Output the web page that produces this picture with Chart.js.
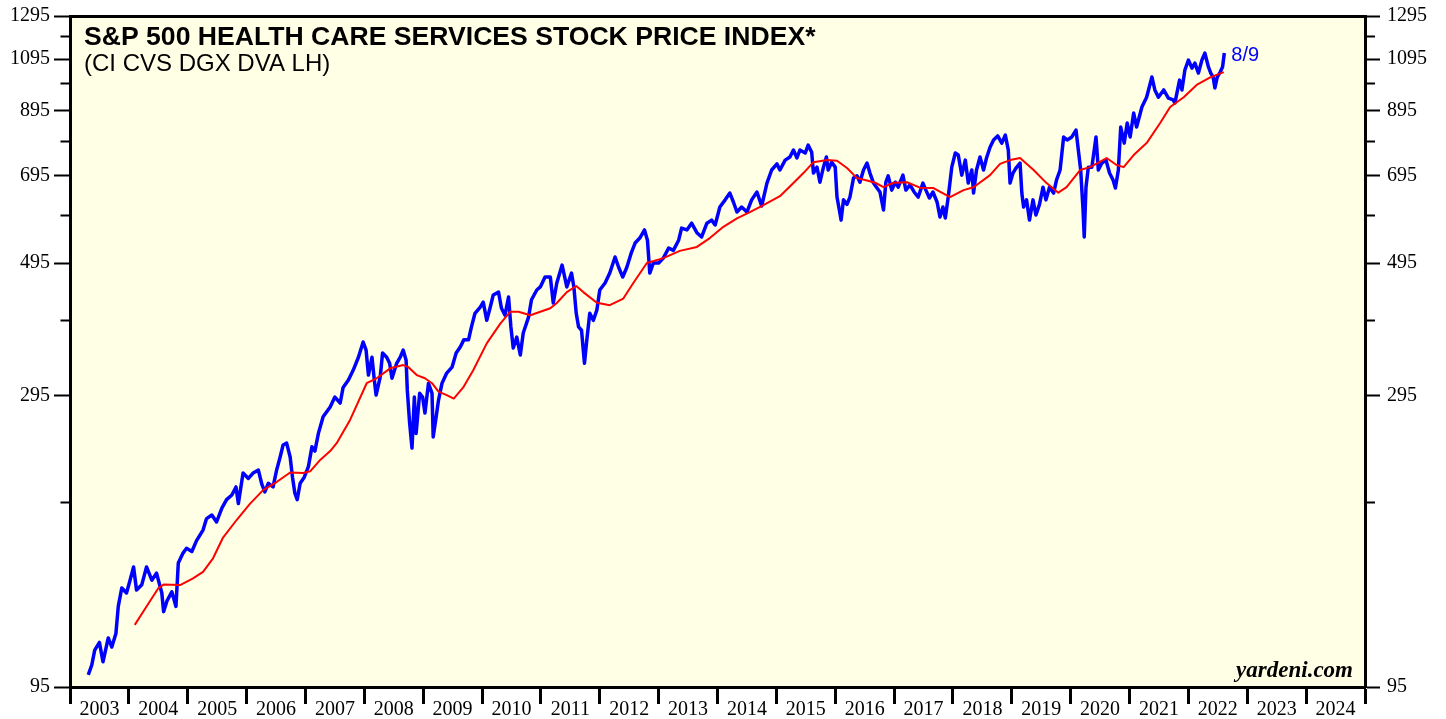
<!DOCTYPE html>
<html>
<head>
<meta charset="utf-8">
<script src="https://cdn.jsdelivr.net/npm/chart.js@4/dist/chart.umd.min.js"></script>
<style>
  html, body { margin: 0; padding: 0; background: #ffffff; }
  #wrap { width: 1446px; height: 719px; position: relative; }
</style>
</head>
<body>
<div id="wrap"><canvas id="c" width="1446" height="719"></canvas></div>
<script>
// ---------- DATA ----------
const titleText = 'S&P 500 HEALTH CARE SERVICES STOCK PRICE INDEX*';
const subtitleText = '(CI CVS DGX DVA LH)';
const lastLabel = '8/9';
const sourceText = 'yardeni.com';

const yearLabels = [2003, 2004, 2005, 2006, 2007, 2008, 2009, 2010, 2011, 2012, 2013,
                    2014, 2015, 2016, 2017, 2018, 2019, 2020, 2021, 2022, 2023, 2024];
const yMajorTicks = [95, 295, 495, 695, 895, 1095, 1295];
const yMinorTicks = [195, 395, 595, 795, 995, 1195];

// weekly-ish index level (decimal year dates)
const priceDates = [
  2003.31, 2003.37, 2003.42, 2003.50, 2003.56, 2003.65, 2003.71, 2003.78, 2003.82, 2003.88, 2003.96,
  2004.02, 2004.08, 2004.13, 2004.22, 2004.30, 2004.39, 2004.47, 2004.56, 2004.59, 2004.65, 2004.73, 2004.80, 2004.84, 2004.92, 2004.98,
  2005.07, 2005.15, 2005.26, 2005.32, 2005.41, 2005.49, 2005.58, 2005.66, 2005.75, 2005.82, 2005.86, 2005.94,
  2006.03, 2006.11, 2006.20, 2006.26, 2006.31, 2006.37, 2006.45, 2006.51, 2006.57, 2006.62, 2006.68, 2006.74, 2006.78, 2006.82, 2006.86, 2006.91, 2006.98,
  2007.05, 2007.11, 2007.16, 2007.22, 2007.30, 2007.42, 2007.50, 2007.59, 2007.64, 2007.73, 2007.81, 2007.90, 2007.98,
  2008.03, 2008.07, 2008.13, 2008.17, 2008.20, 2008.27, 2008.31, 2008.38, 2008.43, 2008.47, 2008.55, 2008.61, 2008.66, 2008.71, 2008.73, 2008.77, 2008.81, 2008.85, 2008.88, 2008.94, 2008.99,
  2009.03, 2009.09, 2009.15, 2009.17, 2009.22, 2009.26, 2009.32, 2009.40, 2009.49, 2009.56, 2009.63, 2009.69, 2009.77, 2009.82, 2009.88, 2009.97,
  2010.02, 2010.08, 2010.14, 2010.19, 2010.28, 2010.33, 2010.39, 2010.45, 2010.49, 2010.53, 2010.59, 2010.65, 2010.70, 2010.79, 2010.84, 2010.93, 2010.99,
  2011.07, 2011.16, 2011.21, 2011.27, 2011.36, 2011.44, 2011.52, 2011.56, 2011.60, 2011.64, 2011.69, 2011.74, 2011.78, 2011.83, 2011.89, 2011.95,
  2012.00, 2012.09, 2012.17, 2012.26, 2012.32, 2012.39, 2012.46, 2012.54, 2012.60, 2012.68, 2012.76, 2012.81, 2012.85, 2012.91,
  2013.00, 2013.08, 2013.17, 2013.25, 2013.34, 2013.39, 2013.48, 2013.56, 2013.65, 2013.73, 2013.82, 2013.90, 2013.96,
  2014.04, 2014.13, 2014.21, 2014.27, 2014.33, 2014.41, 2014.50, 2014.58, 2014.67, 2014.75, 2014.84, 2014.92,
  2015.01, 2015.06, 2015.15, 2015.23, 2015.29, 2015.35, 2015.40, 2015.49, 2015.54, 2015.60, 2015.63, 2015.69, 2015.74, 2015.80, 2015.85, 2015.88, 2015.94,
  2016.00, 2016.03, 2016.07, 2016.10, 2016.14, 2016.20, 2016.25, 2016.31, 2016.37, 2016.42, 2016.48, 2016.54, 2016.59, 2016.65, 2016.71, 2016.76, 2016.82, 2016.86, 2016.90, 2016.96,
  2017.02, 2017.07, 2017.15, 2017.20, 2017.27, 2017.34, 2017.41, 2017.49, 2017.54, 2017.60, 2017.66, 2017.73, 2017.78, 2017.83, 2017.87, 2017.92, 2017.98,
  2018.04, 2018.09, 2018.15, 2018.21, 2018.26, 2018.32, 2018.35, 2018.40, 2018.46, 2018.52, 2018.57, 2018.63, 2018.69, 2018.76, 2018.83, 2018.89, 2018.94, 2018.97,
  2019.02, 2019.07, 2019.14, 2019.17, 2019.20, 2019.25, 2019.30, 2019.36, 2019.41, 2019.47, 2019.53, 2019.58, 2019.64, 2019.71, 2019.76, 2019.82, 2019.88, 2019.94,
  2020.02, 2020.09, 2020.13, 2020.17, 2020.21, 2020.23, 2020.26, 2020.30, 2020.36, 2020.43, 2020.47, 2020.53, 2020.60, 2020.66, 2020.72, 2020.76, 2020.81, 2020.85, 2020.91, 2020.96,
  2021.01, 2021.07, 2021.12, 2021.21, 2021.29, 2021.38, 2021.43, 2021.49, 2021.58, 2021.66, 2021.74, 2021.77, 2021.85, 2021.89, 2021.94,
  2022.00, 2022.06, 2022.11, 2022.17, 2022.23, 2022.28, 2022.34, 2022.38, 2022.42, 2022.45, 2022.49, 2022.54, 2022.58, 2022.61
];
const priceValues = [
  99.6, 103.5, 109.7, 113, 104.8, 115, 111, 117, 130, 139.7, 137,
  144, 151.6, 138.6, 141.5, 151.6, 144, 148, 137, 127.4, 133, 137.6, 130, 154, 160, 163,
  161, 168, 175, 183, 185.6, 180.6, 190.7, 197, 200.6, 207, 194, 218.5,
  214, 218.5, 221, 209, 203, 210, 207, 221, 232.6, 243.7, 245.5, 232.6, 215, 202, 197, 210, 215,
  224, 242, 238, 255, 272, 282.6, 293.7, 287, 305, 314, 326, 343, 364,
  352.7, 320, 343, 314, 296, 317.6, 348.7, 343, 335, 316, 335, 343, 352.7, 339, 302, 265.5, 240.8, 293.7, 255, 298, 293.7,
  276, 310, 298, 251.5, 271.8, 290, 310, 322.5, 330, 348.7, 357, 367, 367, 386, 407, 417,
  425, 396, 417, 437, 442, 415, 404, 433.7, 386, 355.5, 371, 346, 377, 401, 429, 445.6, 451,
  468.7, 468.7, 423.6, 458, 491, 451, 476, 451, 407, 386, 381, 335, 367, 407, 396, 412,
  445.6, 458, 476, 506.7, 487, 468.7, 487, 516.6, 535, 545.5, 563, 541, 476, 495,
  495, 504.6, 524.8, 520, 541, 567, 563, 578, 557, 547.8, 578, 585, 574,
  615.6, 633, 650, 627.7, 603.7, 615.6, 603.7, 633, 652.7, 618, 675.7, 711,
  728, 711, 739, 748, 768.6, 745, 768.6, 759.6, 783.6, 762, 702.6, 719, 678, 719, 748, 711, 733,
  719, 640, 608.5, 585, 633, 622, 640, 689, 695, 678, 711, 730.5, 702.6, 675.7, 662.8, 652.7, 608.5, 678, 695, 657.5,
  678, 665, 697, 657.5, 670.8, 652.7, 640, 675.7, 657.5, 637.6, 652.7, 627.7, 592, 615.6, 590, 640, 719,
  759.6, 753.6, 697, 739, 675.7, 711, 650, 711, 748, 711, 745, 777, 799, 812, 789.5, 814.7, 768.6, 675.7,
  702.6, 716.5, 730.5, 650, 615.6, 633, 585, 633, 596.6, 622, 665, 633, 665, 650, 684, 711, 808.6, 799,
  808.6, 830.7, 768.6, 711, 608.5, 547.8, 665, 719, 719, 808.6, 711, 730.5, 739, 702.6, 684, 662.8, 711, 840.5, 789.5, 853.7,
  808.6, 887.6, 840.5, 908.6, 944, 1021, 971, 944, 971, 940.5, 934, 922.8, 1009, 971, 1049.6,
  1091, 1057, 1078, 1037, 1091, 1121, 1062, 1037, 1021, 978.5, 1021, 1041, 1062, 1121
];

// moving average (red)
const maDates = [
  2004.10, 2004.30, 2004.50, 2004.59, 2004.87,
  2005.09, 2005.26, 2005.43, 2005.60, 2005.83,
  2006.06, 2006.28, 2006.51, 2006.74, 2006.96,
  2007.08, 2007.25, 2007.42, 2007.53, 2007.76,
  2008.04, 2008.21, 2008.44, 2008.66, 2008.75, 2008.89,
  2009.03, 2009.15, 2009.26, 2009.40, 2009.52, 2009.68, 2009.85,
  2010.08, 2010.31, 2010.48, 2010.62, 2010.82, 2010.99,
  2011.16, 2011.27, 2011.44, 2011.60, 2011.72, 2011.95,
  2012.17, 2012.40, 2012.57, 2012.80,
  2013.08, 2013.36, 2013.65, 2013.87,
  2014.10, 2014.33, 2014.55, 2014.78,
  2015.06, 2015.29, 2015.46, 2015.63, 2015.86,
  2016.03, 2016.20, 2016.37, 2016.54, 2016.68, 2016.82, 2016.99,
  2017.22, 2017.44, 2017.67, 2017.95,
  2018.18, 2018.35, 2018.63, 2018.80, 2018.97,
  2019.14, 2019.37, 2019.59, 2019.79, 2019.93,
  2020.16, 2020.33, 2020.61, 2020.78, 2020.90,
  2021.07, 2021.29, 2021.52, 2021.69, 2021.92,
  2022.14, 2022.37, 2022.60
];
const maValues = [
  121, 130, 139.5, 141.6, 141.3,
  145, 148.7, 156.8, 170, 182,
  194, 204.5, 211, 219, 218.5,
  220, 230, 238, 245.5, 269,
  310, 316, 328.5, 332.7, 330, 320,
  316, 310, 300, 296, 292, 305, 326,
  362, 391, 409.5, 409.5, 404, 409.5,
  415, 423.6, 442, 452.6, 442, 424,
  420, 431, 458, 495,
  504.6, 519, 527, 545.5,
  570, 589, 603.7, 620,
  642, 675.7, 702.6, 733, 739,
  737, 716.5, 689, 682.7, 676.6, 665, 676.6,
  678, 663.7, 662.8, 640,
  657.5, 665, 697, 728, 739,
  745, 711, 675.7, 651, 665,
  711, 719, 745, 725, 719,
  753.6, 789.5, 853.7, 908.6, 944,
  990, 1019.7, 1041
];

// ---------- BUILD ----------
const xMin = yearLabels[0];
const xMax = yearLabels[yearLabels.length - 1] + 1;
const xTickValues = [];
yearLabels.forEach(y => { xTickValues.push(y, y + 0.5); });
xTickValues.push(xMax);
const yTickValues = yMajorTicks.concat(yMinorTicks).sort((a, b) => a - b);

const pricePoints = priceDates.map((d, i) => ({ x: d, y: priceValues[i] }));
const maPoints = maDates.map((d, i) => ({ x: d, y: maValues[i] }));

const SERIF = '"Liberation Serif", "Times New Roman", Times, serif';
const SANS = '"Liberation Sans", Arial, Helvetica, sans-serif';

const plotBackground = {
  id: 'plotBackground',
  beforeDraw(chart) {
    const { ctx, chartArea: a } = chart;
    ctx.save();
    ctx.fillStyle = '#FFFFE6';
    ctx.fillRect(a.left, a.top, a.right - a.left, a.bottom - a.top);
    ctx.restore();
  }
};

const annotations = {
  id: 'annotations',
  afterDraw(chart) {
    const { ctx, chartArea: a, scales } = chart;
    ctx.save();
    ctx.textAlign = 'left';
    ctx.textBaseline = 'alphabetic';
    ctx.fillStyle = '#000000';
    ctx.font = 'bold 26.6px ' + SANS;
    ctx.fillText(titleText, a.left + 14, a.top + 28.5);
    ctx.font = '24px ' + SANS;
    ctx.fillText(subtitleText, a.left + 14, a.top + 55);

    const n = priceDates.length - 1;
    const lx = scales.x.getPixelForValue(priceDates[n]);
    const ly = scales.y.getPixelForValue(priceValues[n]);
    ctx.fillStyle = '#0000FF';
    ctx.font = '20px ' + SANS;
    ctx.fillText(lastLabel, lx + 7, ly + 8);

    ctx.fillStyle = '#000000';
    ctx.textAlign = 'right';
    ctx.font = 'italic bold 23px ' + SERIF;
    ctx.fillText(sourceText, a.right - 12, a.bottom - 10);
    ctx.restore();
  }
};

const yTickCommon = (position) => ({
  type: 'logarithmic',
  position: position,
  min: yMajorTicks[0],
  max: yMajorTicks[yMajorTicks.length - 1],
  afterBuildTicks: (s) => { s.ticks = yTickValues.map(v => ({ value: v })); },
  grid: {
    drawOnChartArea: false,
    tickLength: position === 'left' ? 16 : 15,
    tickWidth: 2,
    tickColor: '#000000',
    tickBorderDash: (ctx) => {
      const v = ctx.tick ? ctx.tick.value : null;
      if (yMajorTicks.includes(v)) return [];
      return position === 'left' ? [0, 6.5, 20, 0] : [8, 30];
    }
  },
  border: { display: true, color: '#000000', width: 3 },
  ticks: {
    autoSkip: false,
    padding: position === 'left' ? 4 : 7,
    color: '#000000',
    font: { family: SERIF, size: 20, lineHeight: 0.75 },
    callback: (v) => yMajorTicks.includes(v) ? String(v) : ''
  }
});

const yLeft = yTickCommon('left');
yLeft.afterFit = (s) => { s.width = 70; };
const yRight = yTickCommon('right');
yRight.afterFit = (s) => { s.width = 81; };

new Chart(document.getElementById('c'), {
  type: 'line',
  data: {
    datasets: [
      {
        label: 'Moving average',
        data: maPoints,
        borderColor: '#FF0000',
        borderWidth: 2,
        pointRadius: 0,
        tension: 0,
        fill: false,
        borderJoinStyle: 'round'
      },
      {
        label: 'Index',
        data: pricePoints,
        borderColor: '#0000FF',
        borderWidth: 3.5,
        pointRadius: 0,
        tension: 0,
        fill: false,
        borderJoinStyle: 'round'
      }
    ]
  },
  options: {
    responsive: false,
    animation: false,
    events: [],
    layout: { padding: 0 },
    plugins: { legend: { display: false }, tooltip: { enabled: false }, title: { display: false } },
    scales: {
      x: {
        type: 'linear',
        position: 'bottom',
        min: xMin,
        max: xMax,
        afterBuildTicks: (s) => { s.ticks = xTickValues.map(v => ({ value: v })); },
        afterFit: (s) => { s.height = 32; },
        grid: {
          drawOnChartArea: false,
          tickLength: 17,
          tickWidth: 3,
          tickColor: (ctx) => (ctx.tick && Number.isInteger(ctx.tick.value)) ? '#000000' : 'rgba(0,0,0,0)'
        },
        border: { display: true, color: '#000000', width: 3 },
        ticks: {
          autoSkip: false,
          maxRotation: 0,
          minRotation: 0,
          padding: -6,
          color: '#000000',
          font: { family: SERIF, size: 20 },
          callback: (v) => Number.isInteger(v) ? '' : String(Math.floor(v))
        }
      },
      xTop: {
        type: 'linear',
        position: 'top',
        min: xMin,
        max: xMax,
        afterFit: (s) => { s.height = 16; },
        grid: { display: false, drawTicks: false },
        border: { display: true, color: '#000000', width: 3 },
        ticks: { display: false }
      },
      y: yLeft,
      y2: yRight
    }
  },
  plugins: [plotBackground, annotations]
});
</script>
</body>
</html>
